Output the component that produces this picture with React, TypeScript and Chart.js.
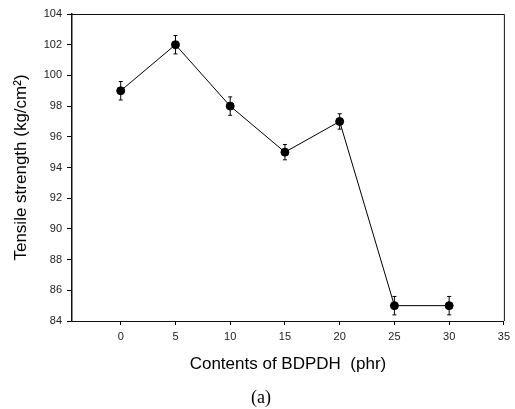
import React, { useEffect, useRef } from "react";
import { Chart, registerables } from "chart.js";

Chart.register(...registerables);

const contents = [0, 5, 10, 15, 20, 25, 30];
const tensile = [99, 102, 98, 95, 97, 85, 85];
const errors = [0.6, 0.6, 0.6, 0.5, 0.5, 0.6, 0.6];
const xTicks = [0, 5, 10, 15, 20, 25, 30, 35];
const yTicks = [84, 86, 88, 90, 92, 94, 96, 98, 100, 102, 104];

const errorBarPlugin = {
  id: "errorBars",
  afterDatasetsDraw(chart: any) {
    const { ctx, scales } = chart;
    const xs = scales.x;
    const ys = scales.y;
    ctx.save();
    ctx.strokeStyle = "#000";
    ctx.lineWidth = 1;
    contents.forEach((c, i) => {
      const px = xs.getPixelForValue(c);
      const top = ys.getPixelForValue(tensile[i] + errors[i]);
      const bot = ys.getPixelForValue(tensile[i] - errors[i]);
      ctx.beginPath();
      ctx.moveTo(px, top);
      ctx.lineTo(px, bot);
      ctx.moveTo(px - 2, top);
      ctx.lineTo(px + 2, top);
      ctx.moveTo(px - 2, bot);
      ctx.lineTo(px + 2, bot);
      ctx.stroke();
    });
    ctx.restore();
  },
};

const framePlugin = {
  id: "frame",
  afterDraw(chart: any) {
    const { ctx, chartArea } = chart;
    ctx.save();
    ctx.strokeStyle = "#111";
    ctx.lineWidth = 1;
    ctx.beginPath();
    ctx.moveTo(chartArea.left, chartArea.top + 0.5);
    ctx.lineTo(chartArea.right + 0.5, chartArea.top + 0.5);
    ctx.lineTo(chartArea.right + 0.5, chartArea.bottom);
    ctx.stroke();
    ctx.fillStyle = "#000";
    ctx.font = "18px 'Liberation Serif', 'Times New Roman', serif";
    ctx.textAlign = "center";
    ctx.textBaseline = "middle";
    ctx.fillText("(a)", 261, 398);
    ctx.restore();
  },
};

export default function App() {
  const ref = useRef<HTMLCanvasElement | null>(null);

  useEffect(() => {
    document.body.style.margin = "0";
    if (!ref.current) return;
    const chart = new Chart(ref.current, {
      type: "line",
      data: {
        datasets: [
          {
            data: contents.map((c, i) => ({ x: c, y: tensile[i] })),
            borderColor: "#000",
            borderWidth: 1,
            backgroundColor: "#000",
            pointRadius: 4,
            pointBackgroundColor: "#000",
            pointBorderColor: "#000",
            tension: 0,
          },
        ],
      },
      options: {
        responsive: false,
        animation: false,
        layout: { padding: { left: 0, top: 14, right: 11, bottom: 0 } },
        plugins: {
          legend: { display: false },
          tooltip: { enabled: false },
        },
        scales: {
          x: {
            type: "linear",
            min: -4.45,
            max: 35,
            afterBuildTicks: (scale: any) => {
              scale.ticks = xTicks.map((v) => ({ value: v }));
            },
            afterFit: (scale: any) => {
              scale.height = 88;
            },
            grid: {
              drawOnChartArea: false,
              drawTicks: true,
              tickLength: 4,
              color: "#000",
            },
            border: { display: true, color: "#111", width: 1 },
            ticks: {
              padding: 5,
              color: "#222",
              maxRotation: 0,
              font: { family: "'Liberation Sans', Arial, sans-serif", size: 11 },
            },
            title: {
              display: true,
              text: "Contents of BDPDH  (phr)",
              color: "#000",
              font: { family: "'Liberation Sans', Arial, sans-serif", size: 17 },
              padding: { top: 0, bottom: 34 },
            },
          },
          y: {
            type: "linear",
            min: 84,
            max: 104,
            afterBuildTicks: (scale: any) => {
              scale.ticks = yTicks.map((v) => ({ value: v }));
            },
            afterFit: (scale: any) => {
              scale.width = 72;
            },
            grid: {
              drawOnChartArea: false,
              drawTicks: true,
              tickLength: 5,
              color: "#000",
            },
            border: { display: true, color: "#111", width: 1.5 },
            ticks: {
              padding: 5,
              color: "#222",
              font: { family: "'Liberation Sans', Arial, sans-serif", size: 11 },
            },
            title: {
              display: true,
              text: "Tensile strength (kg/cm²)",
              color: "#000",
              font: { family: "'Liberation Sans', Arial, sans-serif", size: 17 },
              padding: { top: 11, bottom: 0 },
            },
          },
        },
      },
      plugins: [errorBarPlugin, framePlugin],
    } as any);
    return () => chart.destroy();
  }, []);

  return (
    <div style={{ width: 515, height: 409 }}>
      <canvas ref={ref} width={515} height={409} />
    </div>
  );
}
